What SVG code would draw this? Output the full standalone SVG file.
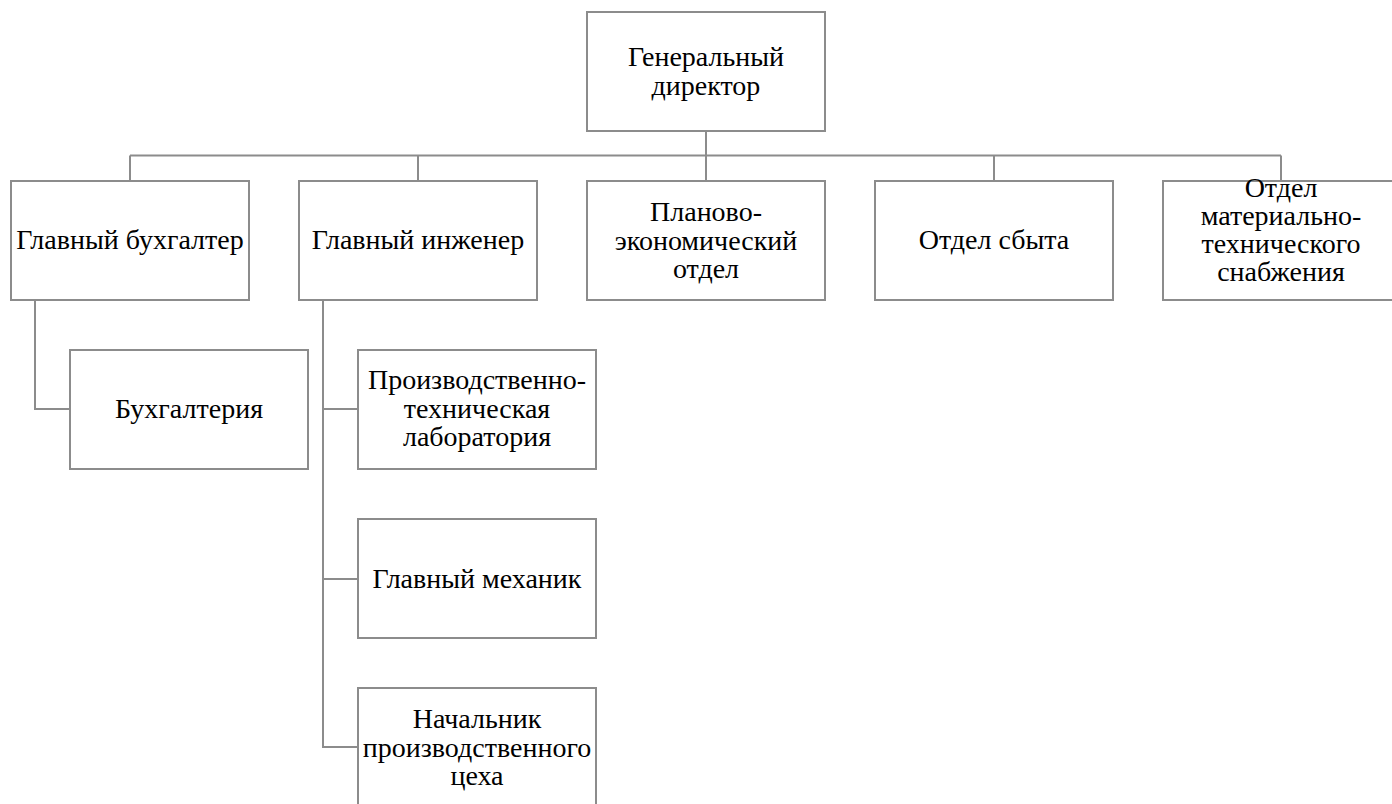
<svg xmlns="http://www.w3.org/2000/svg" width="1392" height="804" viewBox="0 0 1392 804">
<style>
.box{fill:#ffffff;stroke:#8c8c8c;stroke-width:2}
.ln{fill:none;stroke:#8c8c8c;stroke-width:2}
text{font-family:"Liberation Serif","Times New Roman",serif;font-size:28px;fill:#000;text-anchor:middle}
</style>
<rect width="1392" height="804" fill="#ffffff"/>
<g id="connectors">
<path class="ln" d="M706 131V181M130 155.5H1281M130 155.5V181M418 155.5V181M994 155.5V181M1281 155.5V181"/>
<path class="ln" d="M35 300V409H70"/>
<path class="ln" d="M323 300V747H358M323 409H358M323 579H358"/>
</g>
<g id="gen-director">
<rect class="box" x="587" y="12" width="238" height="119"/>
<text x="706" y="66">Генеральный</text>
<text x="706" y="95">директор</text>
</g>
<g id="chief-accountant">
<rect class="box" x="11" y="181" width="238" height="119"/>
<text x="130" y="249">Главный бухгалтер</text>
</g>
<g id="chief-engineer">
<rect class="box" x="299" y="181" width="238" height="119"/>
<text x="418" y="249">Главный инженер</text>
</g>
<g id="planning-dept">
<rect class="box" x="587" y="181" width="238" height="119"/>
<text x="706" y="221">Планово-</text>
<text x="706" y="249.5">экономический</text>
<text x="706" y="278">отдел</text>
</g>
<g id="sales-dept">
<rect class="box" x="875" y="181" width="238" height="119"/>
<text x="994" y="249">Отдел сбыта</text>
</g>
<g id="supply-dept">
<rect class="box" x="1163" y="181" width="238" height="119"/>
<text x="1281" y="197">Отдел</text>
<text x="1281" y="225">материально-</text>
<text x="1281" y="253">технического</text>
<text x="1281" y="281">снабжения</text>
</g>
<g id="accounting">
<rect class="box" x="70" y="350" width="238" height="119"/>
<text x="189" y="418">Бухгалтерия</text>
</g>
<g id="lab">
<rect class="box" x="358" y="350" width="238" height="119"/>
<text x="477" y="389">Производственно-</text>
<text x="477" y="418">техническая</text>
<text x="477" y="446">лаборатория</text>
</g>
<g id="chief-mechanic">
<rect class="box" x="358" y="519" width="238" height="119"/>
<text x="477" y="588">Главный механик</text>
</g>
<g id="shop-head">
<rect class="box" x="358" y="688" width="238" height="119"/>
<text x="477" y="728">Начальник</text>
<text x="477" y="756.5">производственного</text>
<text x="477" y="785">цеха</text>
</g>
</svg>
